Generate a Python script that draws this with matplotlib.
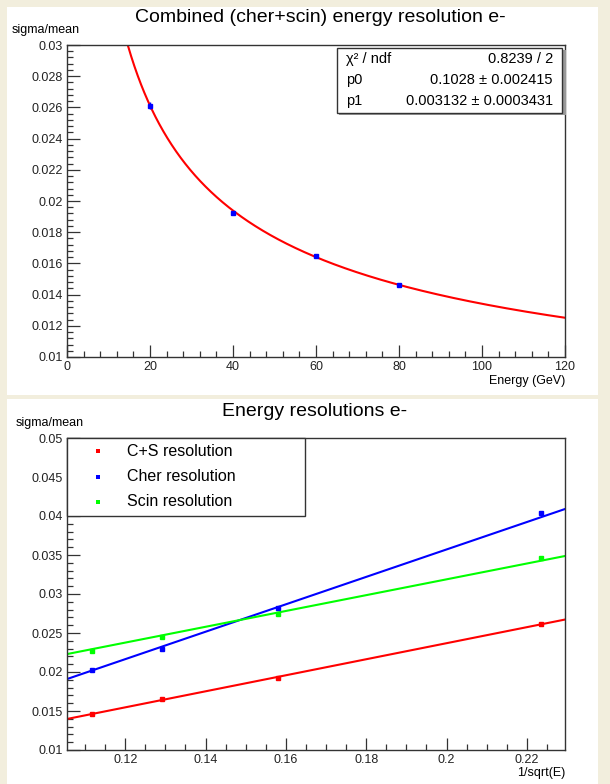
import numpy as np
import matplotlib
matplotlib.use("Agg")
import matplotlib.pyplot as plt
from matplotlib.patches import Rectangle
from matplotlib.ticker import MultipleLocator, FixedLocator

plt.rcParams['font.family'] = ['Liberation Sans', 'DejaVu Sans']

# ---------------- data ----------------
energies = [20, 40, 60, 80]                       # GeV
cs_res = [0.0261, 0.01925, 0.01648, 0.01462]      # C+S resolution
cs_err = [0.00022, 0.00012, 0.0001, 0.0001]
cher_res = [0.0404, 0.0282, 0.02295, 0.02026]     # Cherenkov resolution
cher_err = [0.0003, 0.00015, 0.00012, 0.0001]
scin_res = [0.03462, 0.02744, 0.02449, 0.02269]   # Scintillation resolution
scin_err = [0.0002, 0.00012, 0.0001, 0.0001]

# fit parameters (sigma/mean = p0/sqrt(E) + p1)
fit_p0 = 0.1028
fit_p1 = 0.003132
cher_fit = [0.1758, 0.00055]
scin_fit = [0.1014, 0.0116]
cs_fit = [fit_p0, fit_p1]

stats_labels = ["χ² / ndf", "p0", "p1"]
stats_values = ["0.8239 / 2", "0.1028 ± 0.002415", "0.003132 ± 0.0003431"]

legend_labels = ["C+S resolution", "Cher resolution", "Scin resolution"]
colors = ["#ff0000", "#0000ff", "#00ff00"]

top_title = "Combined (cher+scin) energy resolution e-"
bot_title = "Energy resolutions e-"

# ---------------- layout helpers ----------------
W, H = 610, 784
fig = plt.figure(figsize=(W / 100, H / 100), dpi=100)
fig.patch.set_facecolor("#f2eedd")


def rect(l, t, r, b):
    return [l / W, 1 - b / H, (r - l) / W, (b - t) / H]


def fx(x):
    return x / W


def fy(y):
    return 1 - y / H


# white canvases
fig.add_artist(Rectangle((fx(7), fy(395)), (598 - 7) / W, (395 - 7) / H,
                         transform=fig.transFigure, facecolor="white",
                         edgecolor="none", zorder=-10))
fig.add_artist(Rectangle((fx(7), fy(784)), (598 - 7) / W, (784 - 399) / H,
                         transform=fig.transFigure, facecolor="white",
                         edgecolor="none", zorder=-10))

frame_col = "#333333"


def style_axes(ax):
    for s in ["top", "right", "left", "bottom"]:
        ax.spines[s].set_color(frame_col)
        ax.spines[s].set_linewidth(1.0)
    ax.tick_params(axis="both", which="both", direction="in", colors=frame_col,
                   labelcolor="#222222", labelsize=9, pad=3, top=False, right=False)
    ax.tick_params(which="major", length=9, width=0.9)
    ax.tick_params(which="minor", length=4.5, width=0.9)


fmt = plt.FuncFormatter(lambda v, p: f"{v:g}")

# ---------------- top plot ----------------
ax1 = fig.add_axes(rect(67, 45, 565, 357))
style_axes(ax1)
ax1.xaxis.set_major_locator(MultipleLocator(20))
ax1.xaxis.set_minor_locator(MultipleLocator(4))
ax1.yaxis.set_major_locator(MultipleLocator(0.002))
ax1.yaxis.set_minor_locator(MultipleLocator(0.0004))
ax1.xaxis.set_major_formatter(fmt)
ax1.yaxis.set_major_formatter(fmt)

E = np.linspace(0.5, 120, 1200)
ax1.plot(E, cs_fit[0] / np.sqrt(E) + cs_fit[1], color="#ff0000", lw=1.5, zorder=2)
ax1.errorbar(energies, cs_res, yerr=cs_err, fmt="s", color="#0000ff",
             markersize=3.0, elinewidth=1, capsize=0, zorder=3)
ax1.set_xlim(0, 120)
ax1.set_ylim(0.01, 0.03)

fig.text(fx(320), fy(18), top_title, ha="center", va="center", fontsize=14)
fig.text(fx(12), fy(30), "sigma/mean", ha="left", va="center", fontsize=9)
fig.text(fx(565), fy(381), "Energy (GeV)", ha="right", va="center", fontsize=9)

# stats box
fig.add_artist(Rectangle((fx(339), fy(115)), (564 - 337) / W, (115 - 50) / H,
                         transform=fig.transFigure, facecolor="#999999",
                         edgecolor="none", zorder=5))
fig.add_artist(Rectangle((fx(337), fy(113)), (562 - 337) / W, (113 - 48) / H,
                         transform=fig.transFigure, facecolor="white",
                         edgecolor="#333333", lw=1, zorder=6))
for i, (lab, val) in enumerate(zip(stats_labels, stats_values)):
    yy = 59 + i * 21
    fig.text(fx(346), fy(yy), lab, ha="left", va="center", fontsize=10.5, zorder=7)
    fig.text(fx(553), fy(yy), val, ha="right", va="center", fontsize=10.5, zorder=7)

# ---------------- bottom plot ----------------
ax2 = fig.add_axes(rect(67, 438, 565, 750))
xmin, xmax = 0.1055, 0.2295
style_axes(ax2)
ax2.xaxis.set_major_locator(FixedLocator([0.12, 0.14, 0.16, 0.18, 0.2, 0.22]))
ax2.xaxis.set_minor_locator(MultipleLocator(0.005))
ax2.yaxis.set_major_locator(MultipleLocator(0.005))
ax2.yaxis.set_minor_locator(MultipleLocator(0.001))
ax2.xaxis.set_major_formatter(fmt)
ax2.yaxis.set_major_formatter(fmt)

inv_sqrt_e = 1 / np.sqrt(np.array(energies, dtype=float))
xl = np.linspace(xmin, xmax, 50)
for fit, res, err, col in [(cs_fit, cs_res, cs_err, colors[0]),
                           (cher_fit, cher_res, cher_err, colors[1]),
                           (scin_fit, scin_res, scin_err, colors[2])]:
    ax2.plot(xl, fit[0] * xl + fit[1], color=col, lw=1.5, zorder=2)
    ax2.errorbar(inv_sqrt_e, res, yerr=err, fmt="s", color=col,
                 markersize=3.0, elinewidth=1, capsize=0, zorder=3)
ax2.set_xlim(xmin, xmax)
ax2.set_ylim(0.01, 0.05)

fig.text(fx(315), fy(412), bot_title, ha="center", va="center", fontsize=14)
fig.text(fx(16), fy(423), "sigma/mean", ha="left", va="center", fontsize=9)
fig.text(fx(565), fy(773), "1/sqrt(E)", ha="right", va="center", fontsize=9)

# legend box
fig.add_artist(Rectangle((fx(67), fy(516)), (305 - 67) / W, (516 - 438) / H,
                         transform=fig.transFigure, facecolor="white",
                         edgecolor="#333333", lw=1, zorder=6))
for i, (lab, col) in enumerate(zip(legend_labels, colors)):
    yy = 451 + i * 25.5
    fig.add_artist(Rectangle((fx(96), fy(yy + 2)), 4 / W, 4 / H,
                             transform=fig.transFigure, facecolor=col,
                             edgecolor="none", zorder=7))
    fig.text(fx(127), fy(yy), lab, ha="left", va="center", fontsize=11.5, zorder=7)

fig.savefig("out.png", dpi=100, facecolor=fig.get_facecolor())
